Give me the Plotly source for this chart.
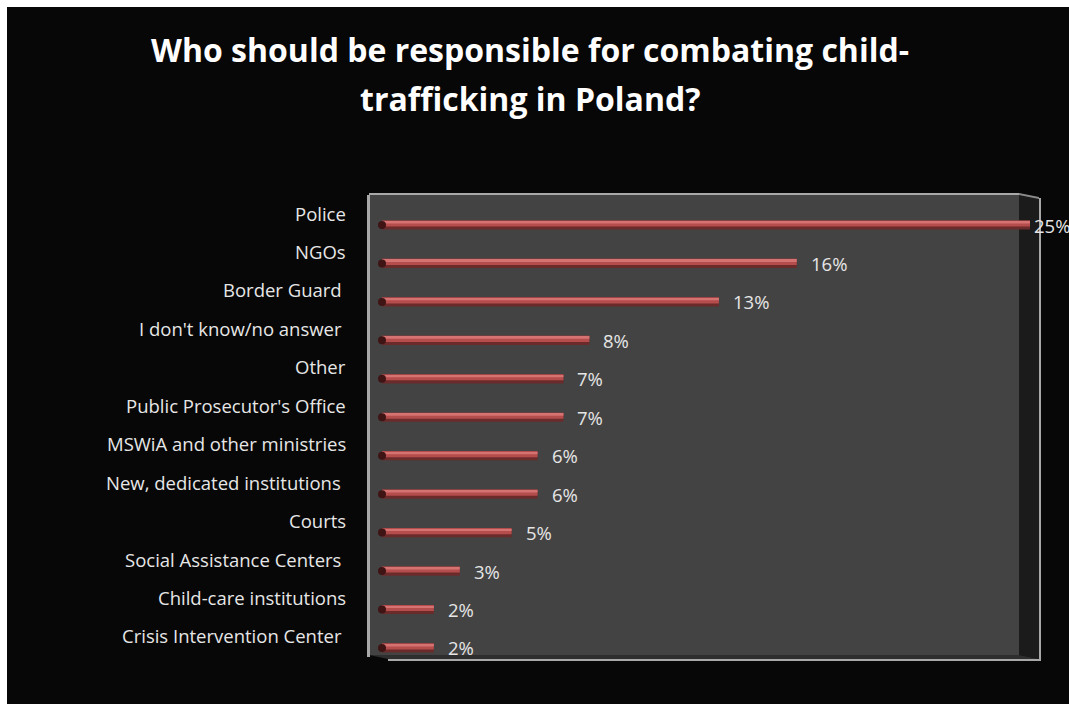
import plotly.graph_objects as go

# Survey answers, top to bottom
categories = [
    "Police",
    "NGOs",
    "Border Guard\u00a0",
    "I don't know/no answer\u00a0",
    "Other",
    "Public Prosecutor's Office",
    "MSWiA and other ministries",
    "New, dedicated institutions\u00a0",
    "Courts",
    "Social Assistance Centers\u00a0",
    "Child-care institutions",
    "Crisis Intervention Center\u00a0",
]
shares = [25, 16, 13, 8, 7, 7, 6, 6, 5, 3, 2, 2]
value_labels = ["25%", "16%", "13%", "8%", "7%", "7%", "6%", "6%", "5%", "3%", "2%", "2%"]
title_lines = ["Who should be responsible for combating child-", "trafficking in Poland?"]

W, H = 1069, 704
PL, PR, PT, PB = 369, 1041, 194, 661  # plot area in pixels
PW, PH = PR - PL, PB - PT

X_PER_PX = 1 / 25.92
X0 = -13 * X_PER_PX
X1 = X0 + PW * X_PER_PX
ROW = 38.45
Y_TOP = -31 / ROW
Y_BOT = (PB - PT - 31) / ROW

FONT = "Open Sans"


def px(x):
    return (x - PL) / PW


def py(y):
    return (PB - y) / PH


def rect(x0, y0, x1, y1, color):
    return dict(type="rect", xref="paper", yref="paper",
                x0=px(x0), x1=px(x1), y0=py(y1), y1=py(y0),
                fillcolor=color, line=dict(width=0), layer="below")


def poly(points, color):
    path = "M " + " L ".join(f"{px(a)},{py(b)}" for a, b in points) + " Z"
    return dict(type="path", xref="paper", yref="paper", path=path,
                fillcolor=color, line=dict(width=0), layer="below")


shapes = [
    rect(7, 7, W, H, "#070707"),                                   # chart area
    rect(369, 194, 1019, 655, "#434343"),                          # back wall
    poly([(1019, 194), (1039, 198), (1039, 659), (1019, 655)], "#1b1b1b"),  # side wall
    poly([(369, 655), (1019, 655), (1039, 659), (388, 659)], "#2e2e2e"),    # floor
    rect(369, 193, 1019, 195, "#a8a8a8"),
    poly([(1019, 193), (1039, 197), (1039, 199), (1019, 195)], "#8a8a8a"),
    rect(367, 195, 370, 657, "#a8a8a8"),
    rect(1039, 198, 1041, 661, "#a8a8a8"),
    rect(388, 659, 1041, 661, "#a8a8a8"),
]

fig = go.Figure()

# cylinder-like bars: dark body, lighter upper band, highlight
fig.add_trace(go.Bar(y=categories, x=shares, orientation="h", width=0.24,
                     marker=dict(color="#6b2b2b", line=dict(width=0)),
                     hoverinfo="skip"))
fig.add_trace(go.Bar(y=categories, x=shares, orientation="h", width=0.16, offset=-0.12,
                     marker=dict(color="#b54d4d", line=dict(width=0)),
                     hoverinfo="skip"))
fig.add_trace(go.Bar(y=categories, x=shares, orientation="h", width=0.05, offset=-0.09,
                     marker=dict(color="#d57272", line=dict(width=0)),
                     hoverinfo="skip"))
# dark end cap at the base of each bar
fig.add_trace(go.Scatter(y=categories, x=[0] * len(categories), mode="markers",
                         marker=dict(symbol="circle", size=8, color="#3e1414",
                                     line=dict(width=0)),
                         cliponaxis=False, hoverinfo="skip"))

annotations = []
for cat, v, lab in zip(categories, shares, value_labels):
    annotations.append(dict(
        x=min(v + 12 * X_PER_PX, (1032 - 382) * X_PER_PX), y=cat,
        xref="x", yref="y", text=lab, showarrow=False,
        xanchor="left", yanchor="middle", yshift=0,
        font=dict(family=FONT, size=18.5, color="#e6e6e6")))
    annotations.append(dict(
        x=px(348), y=cat, xref="paper", yref="y", text=cat, showarrow=False,
        xanchor="right", yanchor="middle", yshift=12,
        font=dict(family=FONT, size=18.5, color="#e6e6e6")))

# two-line heading
for i, line in enumerate(title_lines):
    annotations.append(dict(
        x=px(530), y=py(50 + 48 * i), xref="paper", yref="paper", text=line,
        showarrow=False, xanchor="center", yanchor="middle",
        font=dict(family=FONT, size=32, color="#ffffff", weight="bold")))

fig.update_layout(
    width=W, height=H,
    margin=dict(l=PL, r=W - PR, t=PT, b=H - PB, pad=0),
    paper_bgcolor="#ffffff",
    plot_bgcolor="rgba(0,0,0,0)",
    barmode="overlay",
    showlegend=False,
    shapes=shapes,
    annotations=annotations,
    xaxis=dict(range=[X0, X1], visible=False, fixedrange=True),
    yaxis=dict(categoryorder="array", categoryarray=categories,
               range=[Y_BOT, Y_TOP], showticklabels=False, showgrid=False,
               zeroline=False, showline=False, ticks=""),
)

fig.write_html("out.html")
